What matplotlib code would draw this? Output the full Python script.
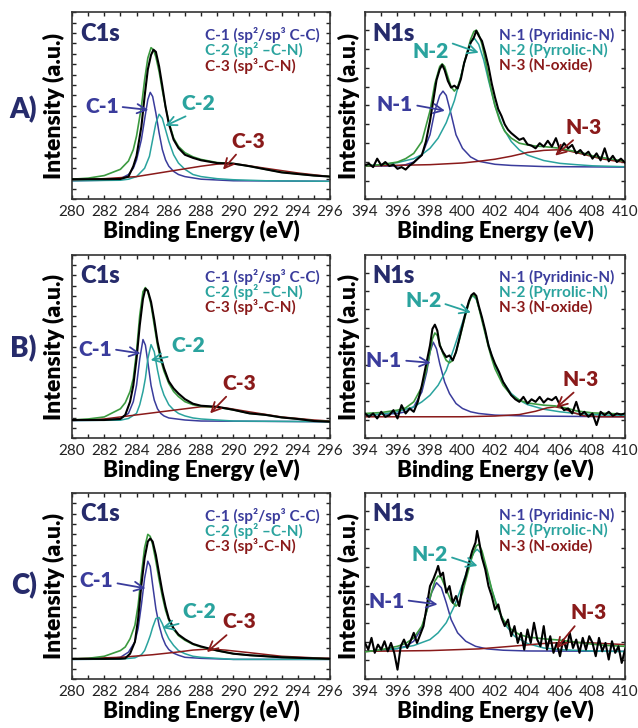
import matplotlib
matplotlib.use('Agg')
import matplotlib.pyplot as plt
from matplotlib.ticker import MultipleLocator

# ---------------- data (intensity in a.u.) ----------------
# A) C1s
a_c_e = [280, 281, 282, 283, 283.5, 283.8, 284.0, 284.3, 284.5, 284.7, 284.9, 285.05, 285.2,
         285.4, 285.6, 285.8, 286.0, 286.3, 286.6, 287, 287.5, 288, 289, 290, 291, 292, 293,
         294, 295, 296]
a_c_raw = [1.95, 1.95, 1.95, 1.97, 2.2, 3.2, 4.2, 7.0, 9.9, 12.5, 13.9, 14.4, 14.2, 12.8, 10.9,
           8.9, 7.3, 5.75, 4.95, 4.3, 4.0, 3.77, 3.5, 3.45, 3.2, 2.9, 2.6, 2.45, 2.3, 2.2]
a_c_env = [1.95, 2.05, 2.3, 2.9, 3.7, 4.8, 6.1, 8.9, 11.5, 13.6, 14.6, 14.4, 13.7, 12.3, 10.5,
           8.9, 7.5, 5.9, 5.1, 4.5, 4.1, 3.85, 3.55, 3.45, 3.2, 2.9, 2.62, 2.45, 2.3, 2.2]
a_c1_e = [280, 282, 283, 283.5, 283.8, 284.0, 284.3, 284.5, 284.7, 284.85, 285.0, 285.2, 285.4,
          285.6, 285.8, 286.0, 286.3, 286.6, 287, 288, 290, 296]
a_c1_i = [1.8, 1.85, 2.0, 2.4, 3.0, 3.8, 5.75, 7.7, 9.6, 10.3, 9.9, 8.3, 6.4, 4.8, 3.8, 3.2,
          2.7, 2.4, 2.2, 1.95, 1.8, 1.75]
a_c2_e = [280, 283, 283.5, 284.0, 284.5, 284.8, 285.0, 285.2, 285.4, 285.6, 285.8, 286.0,
          286.3, 286.6, 287, 287.5, 288, 289, 290, 292, 296]
a_c2_i = [1.8, 1.85, 1.95, 2.2, 3.0, 4.15, 5.75, 7.35, 8.2, 7.8, 6.7, 5.6, 4.3, 3.5, 2.9, 2.4,
          2.2, 2.0, 1.9, 1.8, 1.75]
a_c3_e = [280, 282, 284, 286, 288, 289, 289.5, 290.5, 292, 294, 296]
a_c3_i = [1.9, 2.0, 2.2, 2.7, 3.2, 3.4, 3.45, 3.35, 3.0, 2.55, 2.2]

# B) C1s
b_c_e = [280, 281, 282, 283, 283.3, 283.6, 283.8, 284.0, 284.2, 284.4, 284.55, 284.7, 284.9,
         285.1, 285.3, 285.5, 285.7, 286.0, 286.3, 286.6, 287, 287.5, 288, 289, 290, 291, 292,
         293, 294, 295, 296]
b_c_raw = [1.8, 1.8, 1.8, 1.9, 2.3, 3.6, 5.2, 7.8, 11.1, 13.7, 14.7, 14.5, 13.4, 11.6, 9.5,
           8.0, 6.9, 5.6, 4.9, 4.4, 3.85, 3.4, 3.2, 3.1, 2.8, 2.45, 2.3, 2.05, 1.9, 1.7, 1.63]
b_c_env = [1.8, 1.9, 2.1, 2.9, 3.5, 4.6, 5.9, 8.5, 12.1, 14.4, 14.8, 14.4, 13.1, 11.1, 9.15,
           7.7, 6.6, 5.4, 4.6, 4.1, 3.6, 3.3, 3.15, 3.05, 2.8, 2.45, 2.3, 2.05, 1.9, 1.72, 1.65]
b_c1_e = [280, 282, 283, 283.5, 283.8, 284.0, 284.2, 284.4, 284.55, 284.7, 284.9, 285.1, 285.3,
          285.5, 285.7, 286.0, 286.5, 287, 288, 296]
b_c1_i = [1.75, 1.78, 1.95, 2.45, 3.6, 5.2, 7.8, 9.7, 9.15, 7.5, 5.2, 3.75, 2.9, 2.45, 2.2,
          2.0, 1.9, 1.8, 1.7, 1.63]
b_c2_e = [280, 283, 283.5, 284.0, 284.2, 284.4, 284.55, 284.7, 284.9, 285.1, 285.3, 285.5,
          285.7, 286.0, 286.3, 286.6, 287, 287.5, 288, 289, 290, 296]
b_c2_i = [1.75, 1.78, 1.95, 2.45, 3.3, 4.6, 5.9, 7.8, 9.2, 8.5, 6.7, 5.2, 4.25, 3.3, 2.8,
          2.45, 2.2, 2.0, 1.9, 1.8, 1.7, 1.63]
b_c3_e = [280, 282, 284, 286, 287, 288, 288.5, 289.5, 291, 293, 295, 296]
b_c3_i = [1.75, 1.9, 2.3, 2.7, 2.9, 3.1, 3.1, 3.0, 2.6, 2.1, 1.8, 1.7]

# C) C1s
c_c_e = [280, 281, 282, 283, 283.3, 283.6, 283.9, 284.1, 284.3, 284.5, 284.7, 284.85, 285.0,
         285.2, 285.4, 285.6, 285.8, 286.0, 286.3, 286.6, 287, 287.5, 288, 289, 290, 291, 292,
         293, 294, 295, 296]
c_c_raw = [1.95, 1.95, 1.95, 1.97, 2.0, 2.45, 3.6, 5.85, 9.1, 11.7, 13.3, 13.6, 13.3, 12.0,
           10.2, 8.45, 7.0, 5.85, 4.9, 4.3, 3.85, 3.4, 3.15, 2.75, 2.45, 2.3, 2.2, 2.1, 2.05,
           2.0, 1.95]
c_c_env = [1.95, 2.0, 2.2, 2.75, 3.1, 3.9, 5.2, 7.15, 10.1, 12.7, 14.0, 13.8, 13.0, 11.4, 9.6,
           8.0, 6.65, 5.7, 4.8, 4.2, 3.75, 3.35, 3.1, 2.75, 2.45, 2.3, 2.2, 2.1, 2.05, 2.0, 1.95]
c_c1_e = [280, 282, 283, 283.5, 283.9, 284.1, 284.3, 284.5, 284.7, 284.85, 285.0, 285.2, 285.4,
          285.6, 285.8, 286.0, 286.3, 286.6, 287, 288, 290, 296]
c_c1_i = [1.9, 1.92, 2.1, 2.6, 3.6, 4.9, 7.15, 9.75, 11.4, 10.9, 9.1, 6.8, 5.2, 4.05, 3.3,
          2.85, 2.5, 2.3, 2.1, 2.0, 1.9, 1.9]
c_c2_e = [280, 283, 283.9, 284.3, 284.5, 284.7, 284.85, 285.0, 285.2, 285.4, 285.6, 285.8,
          286.0, 286.3, 286.6, 287, 287.5, 288, 289, 290, 296]
c_c2_i = [1.9, 1.92, 2.05, 2.35, 2.75, 3.55, 4.2, 5.0, 5.85, 5.95, 5.35, 4.55, 3.9, 3.25, 2.75,
          2.45, 2.2, 2.1, 2.0, 1.9, 1.9]
c_c3_e = [280, 283, 285, 286.5, 287.5, 288.5, 289.5, 291, 293, 295, 296]
c_c3_i = [1.95, 2.1, 2.35, 2.6, 2.8, 2.9, 2.8, 2.55, 2.2, 2.05, 2.0]

# A) N1s
a_n_raw_e = [394, 394.25, 394.5, 394.75, 395, 395.25, 395.5, 395.75, 396, 396.25, 396.5, 396.75,
             397, 397.25, 397.5, 397.75, 398, 398.2, 398.4, 398.6, 398.75, 398.9, 399.1, 399.3,
             399.5, 399.7, 399.9, 400.1, 400.3, 400.5, 400.7, 400.85, 401, 401.2, 401.4, 401.6,
             401.8, 402, 402.2, 402.4, 402.6, 402.8, 403, 403.25, 403.5, 403.75, 404, 404.25,
             404.5, 404.75, 405, 405.25, 405.5, 405.75, 406, 406.25, 406.5, 406.75, 407,
             407.25, 407.5, 407.75, 408, 408.25, 408.5, 408.75, 409, 409.25, 409.5, 409.75, 410]
a_n_raw_i = [1.81, 1.90, 1.72, 2.17, 1.81, 1.99, 1.78, 1.85, 1.63, 1.72, 1.59, 1.81, 1.96, 2.17,
             2.36, 3.08, 4.17, 5.25, 6.34, 6.92, 7.16, 6.88, 6.30, 5.95, 6.05, 5.90, 6.40, 7.25,
             7.79, 8.33, 8.61, 8.97, 8.70, 8.42, 7.79, 7.07, 6.16, 5.43, 4.80, 4.44, 3.99, 3.71,
             3.53, 3.35, 3.17, 3.26, 2.93, 2.86, 2.72, 2.99, 2.81, 3.12, 2.81, 3.26, 2.63, 2.99,
             2.72, 2.90, 2.45, 2.63, 2.36, 2.54, 2.17, 2.45, 2.08, 2.72, 2.03, 2.32, 1.99, 2.17,
             1.96]
a_n_env_e = [394, 395, 396, 396.5, 397, 397.5, 398, 398.3, 398.6, 398.75, 398.9, 399.1, 399.3,
             399.5, 399.7, 399.9, 400.1, 400.3, 400.5, 400.7, 400.85, 401.0, 401.2, 401.4,
             401.6, 401.8, 402.0, 402.3, 402.6, 403.0, 403.5, 404, 404.5, 405, 405.5, 406,
             406.5, 407, 407.5, 408, 409, 410]
a_n_env_i = [1.78, 1.85, 1.99, 2.17, 2.45, 3.08, 4.71, 6.16, 7.07, 7.21, 7.07, 6.52, 5.98, 5.76,
             5.98, 6.52, 7.25, 7.88, 8.51, 8.93, 9.0, 8.79, 8.24, 7.43, 6.52, 5.71, 4.98, 4.17,
             3.62, 3.26, 2.99, 2.90, 2.84, 2.81, 2.77, 2.72, 2.63, 2.54, 2.45, 2.32, 2.17, 2.03]
a_n1_e = [394, 396, 396.5, 397, 397.5, 398, 398.3, 398.6, 398.8, 399.0, 399.3, 399.6, 400.0,
          400.5, 401, 402, 403, 405, 410]
a_n1_i = [1.78, 1.78, 1.85, 1.99, 2.36, 3.44, 4.71, 5.53, 5.76, 5.53, 4.53, 3.44, 2.72, 2.26,
          2.03, 1.87, 1.81, 1.75, 1.72]
a_n2_e = [394, 395, 396, 397, 397.5, 398, 398.5, 399, 399.5, 400, 400.3, 400.55, 400.75, 401.0,
          401.3, 401.6, 402.0, 402.5, 403, 403.5, 404, 405, 406, 407, 408, 410]
a_n2_i = [1.78, 1.85, 1.96, 2.17, 2.39, 2.72, 3.26, 4.08, 5.25, 6.88, 7.88, 8.42, 8.55, 8.24,
          7.43, 6.34, 4.98, 3.80, 3.08, 2.63, 2.36, 2.07, 1.92, 1.85, 1.79, 1.74]
a_n3_e = [394, 398, 400, 401, 402, 403, 404, 405, 405.8, 406.5, 407.5, 408.5, 409.5, 410]
a_n3_i = [1.78, 1.85, 1.94, 2.03, 2.14, 2.30, 2.50, 2.61, 2.64, 2.59, 2.39, 2.17, 2.03, 1.97]

# B) N1s
b_n_raw_e = [394, 394.25, 394.5, 394.75, 395, 395.25, 395.5, 395.75, 396, 396.25, 396.5, 396.75,
             397, 397.25, 397.5, 397.75, 398, 398.15, 398.3, 398.45, 398.6, 398.8, 399, 399.2,
             399.4, 399.6, 399.8, 400, 400.2, 400.4, 400.55, 400.7, 400.85, 401, 401.2, 401.4,
             401.6, 401.8, 402, 402.25, 402.5, 402.75, 403, 403.25, 403.5, 403.75, 404, 404.25,
             404.5, 404.75, 405, 405.25, 405.5, 405.75, 406, 406.25, 406.5, 406.75, 407,
             407.25, 407.5, 407.75, 408, 408.25, 408.5, 408.75, 409, 409.25, 409.5, 409.75, 410]
b_n_raw_i = [1.35, 1.17, 1.35, 1.08, 1.44, 1.17, 1.26, 1.53, 1.08, 1.80, 1.35, 1.62, 1.44, 1.98,
             2.88, 3.96, 5.04, 5.94, 6.17, 5.85, 5.04, 4.68, 4.41, 4.50, 4.23, 4.68, 5.40, 6.12,
             6.83, 7.46, 7.77, 7.88, 7.73, 7.19, 6.56, 5.85, 5.04, 4.50, 4.05, 3.60, 3.06, 2.70,
             2.34, 2.12, 1.98, 2.25, 1.89, 2.12, 1.98, 2.25, 1.94, 2.16, 2.07, 2.25, 1.80, 1.53,
             1.62, 1.35, 1.98, 1.26, 1.44, 1.17, 1.35, 0.72, 1.44, 1.26, 1.44, 1.22, 1.35, 1.29,
             1.35]
b_n_env_e = [394, 395, 396, 396.5, 397, 397.5, 397.8, 398.0, 398.15, 398.3, 398.45, 398.6,
             398.8, 399.0, 399.2, 399.4, 399.6, 399.8, 400.0, 400.2, 400.4, 400.55, 400.7,
             400.85, 401.0, 401.2, 401.4, 401.6, 401.8, 402.0, 402.5, 403.0, 403.5, 404, 405,
             405.7, 406.5, 407, 408, 409, 410]
b_n_env_i = [1.35, 1.40, 1.53, 1.65, 1.98, 2.79, 3.78, 4.68, 5.40, 5.72, 5.58, 5.13, 4.59, 4.23,
             4.10, 4.23, 4.68, 5.31, 6.03, 6.74, 7.37, 7.70, 7.77, 7.59, 7.10, 6.38, 5.67, 4.95,
             4.32, 3.78, 2.88, 2.34, 2.07, 1.92, 1.80, 1.76, 1.62, 1.49, 1.38, 1.35, 1.31]
b_n1_e = [394, 396, 396.5, 397, 397.5, 397.8, 398.0, 398.2, 398.4, 398.6, 398.9, 399.2, 399.6,
          400.0, 400.5, 401, 402, 404, 410]
b_n1_i = [1.26, 1.35, 1.44, 1.71, 2.52, 3.60, 4.68, 5.22, 4.86, 4.05, 3.06, 2.43, 1.89, 1.62,
          1.44, 1.35, 1.26, 1.21, 1.17]
b_n2_e = [394, 395, 396, 397, 397.5, 398, 398.5, 399, 399.5, 400, 400.3, 400.5, 400.65, 400.85,
          401.1, 401.4, 401.7, 402, 402.5, 403, 403.5, 404, 405, 406, 407, 408, 410]
b_n2_i = [1.26, 1.31, 1.44, 1.71, 1.98, 2.34, 2.88, 3.69, 4.95, 6.29, 7.19, 7.64, 7.73, 7.55,
          6.83, 5.76, 4.77, 3.96, 3.06, 2.43, 2.07, 1.83, 1.58, 1.44, 1.35, 1.29, 1.22]
b_n3_e = [394, 400, 402, 403.5, 404.5, 405.2, 405.7, 406.2, 406.8, 407.5, 408.5, 410]
b_n3_i = [1.17, 1.17, 1.21, 1.29, 1.47, 1.65, 1.71, 1.62, 1.40, 1.22, 1.17, 1.17]

# C) N1s
c_n_raw_e = [394.0, 394.2, 394.4, 394.6, 394.8, 395.0, 395.2, 395.4, 395.6, 395.8, 396.0, 396.2,
             396.4, 396.6, 396.8, 397.0, 397.2, 397.4, 397.6, 397.8, 398.0, 398.2, 398.4, 398.5,
             398.65, 398.8, 399.0, 399.2, 399.4, 399.6, 399.8, 400.0, 400.2, 400.4, 400.6,
             400.8, 400.9, 401.0, 401.2, 401.4, 401.6, 401.8, 402.0, 402.2, 402.4, 402.6,
             402.8, 403.0, 403.2, 403.4, 403.6, 403.8, 404.0, 404.2, 404.4, 404.6, 404.8,
             405.0, 405.2, 405.4, 405.6, 405.8, 406.0, 406.2, 406.4, 406.6, 406.8, 407.0,
             407.2, 407.4, 407.6, 407.8, 408.0, 408.2, 408.4, 408.6, 408.8, 409.0, 409.2,
             409.4, 409.6, 409.8, 410.0]
c_n_raw_i = [1.93, 1.57, 2.20, 1.40, 1.84, 1.57, 2.02, 1.48, 1.93, 1.40,
             0.50, 1.75, 2.11, 1.66, 2.02, 2.47, 1.93, 2.38, 2.83, 3.90,
             4.97, 5.33, 5.78, 6.05, 5.51, 5.69, 4.62, 4.97, 4.08, 4.44, 3.90,
             4.97, 5.51, 6.23, 6.85, 7.30, 7.92, 7.48, 6.49, 5.87, 4.97, 4.44,
             3.72, 3.99, 3.27, 2.83, 3.18,
             2.29, 2.83, 1.93, 2.47, 1.57,
             2.65, 1.93, 3.01, 2.11, 1.75,
             2.83, 1.57, 2.29, 1.40, 1.93,
             1.22, 2.11, 1.57, 2.47, 1.66,
             2.11, 1.40, 2.20, 1.57, 2.29,
             1.93, 1.22, 2.20, 1.48, 1.93,
             1.04, 2.02, 1.40, 1.75, 0.86,
             1.57]
c_n_env_e = [394, 395, 396, 396.5, 397, 397.5, 397.8, 398.0, 398.3, 398.5, 398.7, 399.0, 399.3,
             399.6, 399.8, 400.0, 400.3, 400.6, 400.85, 401.0, 401.2, 401.5, 401.8, 402.1,
             402.5, 403, 403.5, 404, 405, 406, 407, 408, 409, 410]
c_n_env_i = [1.45, 1.57, 1.75, 1.90, 2.20, 2.83, 3.63, 4.35, 5.24, 5.51, 5.42, 4.79, 4.17, 3.90,
             4.08, 4.62, 5.60, 6.58, 7.12, 7.21, 6.85, 5.87, 4.79, 3.90, 3.18, 2.65, 2.38, 2.25,
             2.15, 2.08, 1.97, 1.86, 1.79, 1.75]
c_n1_e = [394, 395, 396, 396.5, 397, 397.5, 397.8, 398.1, 398.4, 398.7, 399.0, 399.3, 399.7,
          400.2, 400.8, 401.5, 402.5, 404, 410]
c_n1_i = [1.48, 1.54, 1.63, 1.75, 2.02, 2.74, 3.63, 4.62, 5.15, 4.88, 4.08, 3.18, 2.47, 2.02,
          1.75, 1.61, 1.54, 1.50, 1.48]
c_n2_e = [394, 395, 396, 397, 398, 398.5, 399, 399.5, 400, 400.4, 400.7, 400.9, 401.1, 401.4,
          401.8, 402.2, 402.7, 403.2, 404, 405, 406, 408, 410]
c_n2_i = [1.48, 1.54, 1.63, 1.79, 2.11, 2.47, 3.01, 3.90, 5.06, 6.14, 6.76, 6.94, 6.76, 6.05,
          4.79, 3.72, 2.83, 2.29, 1.90, 1.66, 1.57, 1.50, 1.47]
c_n3_e = [394, 398, 401, 403, 405, 406.5, 408, 410]
c_n3_i = [1.48, 1.52, 1.61, 1.75, 1.90, 1.97, 1.93, 1.84]

c_legend = ['C-1 (sp\u00b2/sp\u00b3 C-C)', 'C-2 (sp\u00b2 \u2013C-N)', 'C-3 (sp\u00b3-C-N)']
n_legend = ['N-1 (Pyridinic-N)', 'N-2 (Pyrrolic-N)', 'N-3 (N-oxide)']
row_labels = ['A)', 'B)', 'C)']

# ---------------- style ----------------
plt.rcParams['font.family'] = ['Lato', 'DejaVu Sans']

NAVY = '#262b6b'
BLUE = '#3a3c9c'
TEAL = '#2aa39e'
RED = '#8a1a1a'
GREEN = '#3c9a40'
comp_colors = [BLUE, TEAL, RED]

fig = plt.figure(figsize=(6.38, 7.28), dpi=100)

# axes rectangles in figure fraction (bottom, height) per row
rows = [(0.7260, 0.2571), (0.3979, 0.2518), (0.0673, 0.2555)]
col_c = (0.1129, 0.4044)
col_n = (0.5721, 0.4075)


def style_axes(ax, xlim, ylim):
    ax.set_xlim(*xlim)
    ax.set_ylim(*ylim)
    ax.xaxis.set_major_locator(MultipleLocator(2))
    ax.xaxis.set_minor_locator(MultipleLocator(1))
    ax.yaxis.set_major_locator(MultipleLocator(1))
    ax.tick_params(which='both', direction='in', top=True, right=True,
                   length=3, width=1, labelsize=11, pad=4, colors='#222222')
    ax.tick_params(axis='y', labelleft=False)
    for s in ax.spines.values():
        s.set_linewidth(1.2)
        s.set_color('#333333')
    ax.set_xlabel('Binding Energy (eV)', fontsize=16, fontweight='heavy', labelpad=1)


def draw(ax, comps, env, raw, title, legend, notes):
    for (e, i), col in zip(comps, comp_colors):
        ax.plot(e, i, color=col, lw=1.1, zorder=2)
    ax.plot(env[0], env[1], color=GREEN, lw=1.2, zorder=3)
    ax.plot(raw[0], raw[1], color='black', lw=1.5, zorder=4)
    ax.text(0.03, 0.885, title, transform=ax.transAxes, fontsize=17,
            fontweight='heavy', color=NAVY, ha='left', va='center')
    for k, (txt, col) in enumerate(zip(legend, comp_colors)):
        ax.text(0.515, 0.878 - 0.082 * k, txt, transform=ax.transAxes, fontsize=11,
                fontweight='bold', color=col, ha='left', va='center')
    for (lab, col, txy, tip, rel) in notes:
        ax.annotate(lab, xy=tip, xytext=txy, fontsize=15, fontweight='heavy', color=col,
                    ha='center', va='center', zorder=6,
                    arrowprops=dict(arrowstyle='->,head_length=0.45,head_width=0.22',
                                    color=col, lw=1.3, relpos=rel, shrinkA=1, shrinkB=0))


c1s_sets = [
    ([(a_c1_e, a_c1_i), (a_c2_e, a_c2_i), (a_c3_e, a_c3_i)], (a_c_e, a_c_env), (a_c_e, a_c_raw),
     [('C-1', BLUE, (281.84, 8.93), (284.74, 8.61), (1, 0.5)),
      ('C-2', TEAL, (287.8, 9.23), (285.78, 7.08), (0.35, 0)),
      ('C-3', RED, (290.9, 5.6), (289.36, 2.87), (0.25, 0))]),
    ([(b_c1_e, b_c1_i), (b_c2_e, b_c2_i), (b_c3_e, b_c3_i)], (b_c_e, b_c_env), (b_c_e, b_c_raw),
     [('C-1', BLUE, (281.43, 8.76), (284.25, 8.33), (1, 0.5)),
      ('C-2', TEAL, (287.23, 9.15), (284.87, 7.68), (0.22, 0)),
      ('C-3', RED, (290.35, 5.39), (288.56, 2.45), (0.23, 0))]),
    ([(c_c1_e, c_c1_i), (c_c2_e, c_c2_i), (c_c3_e, c_c3_i)], (c_c_e, c_c_env), (c_c_e, c_c_raw),
     [('C-1', BLUE, (281.52, 9.51), (284.56, 8.77), (1, 0.4)),
      ('C-2', TEAL, (287.88, 6.56), (285.59, 4.94), (0.26, 0)),
      ('C-3', RED, (290.35, 5.52), (288.36, 2.6), (0.26, 0))]),
]

n1s_sets = [
    ([(a_n1_e, a_n1_i), (a_n2_e, a_n2_i), (a_n3_e, a_n3_i)], (a_n_env_e, a_n_env_i),
     (a_n_raw_e, a_n_raw_i),
     [('N-1', BLUE, (395.85, 5.03), (398.92, 4.72), (1, 0.5)),
      ('N-2', TEAL, (398.03, 7.86), (401.0, 7.8), (1, 1)),
      ('N-3', RED, (407.45, 3.85), (405.7, 2.33), (0.33, 0))]),
    ([(b_n1_e, b_n1_i), (b_n2_e, b_n2_i), (b_n3_e, b_n3_i)], (b_n_env_e, b_n_env_i),
     (b_n_raw_e, b_n_raw_i),
     [('N-1', BLUE, (395.17, 4.23), (398.05, 4.1), (1, 0.5)),
      ('N-2', TEAL, (397.58, 7.46), (400.52, 6.83), (1, 0.4)),
      ('N-3', RED, (407.25, 3.2), (405.77, 1.65), (0.43, 0))]),
    ([(c_n1_e, c_n1_i), (c_n2_e, c_n2_i), (c_n3_e, c_n3_i)], (c_n_env_e, c_n_env_i),
     (c_n_raw_e, c_n_raw_i),
     [('N-1', BLUE, (395.32, 4.17), (398.47, 3.99), (1, 0.55)),
      ('N-2', TEAL, (397.99, 6.67), (400.93, 6.05), (1, 0.4)),
      ('N-3', RED, (407.77, 3.54), (405.77, 1.63), (0.2, 0))]),
]

for r, (bottom, height) in enumerate(rows):
    axc = fig.add_axes([col_c[0], bottom, col_c[1], height])
    style_axes(axc, (280, 296), (0, 18))
    comps, env, raw, notes = c1s_sets[r]
    draw(axc, comps, env, raw, 'C1s', c_legend, notes)

    axn = fig.add_axes([col_n[0], bottom, col_n[1], height])
    style_axes(axn, (394, 410), (0, 9.95))
    comps, env, raw, notes = n1s_sets[r]
    draw(axn, comps, env, raw, 'N1s', n_legend, notes)

    ymid = bottom + height / 2
    fig.text(0.084, ymid, 'Intensity (a.u.)', rotation=90, fontsize=16.5,
             fontweight='heavy', ha='center', va='center')
    fig.text(0.547, ymid, 'Intensity (a.u.)', rotation=90, fontsize=16.5,
             fontweight='heavy', ha='center', va='center')

fig.text(0.037, 0.849, row_labels[0], fontsize=20, fontweight='heavy', color=NAVY,
         ha='center', va='center')
fig.text(0.037, 0.521, row_labels[1], fontsize=20, fontweight='heavy', color=NAVY,
         ha='center', va='center')
fig.text(0.037, 0.196, row_labels[2], fontsize=20, fontweight='heavy', color=NAVY,
         ha='center', va='center')

fig.savefig('out.png', dpi=100)
